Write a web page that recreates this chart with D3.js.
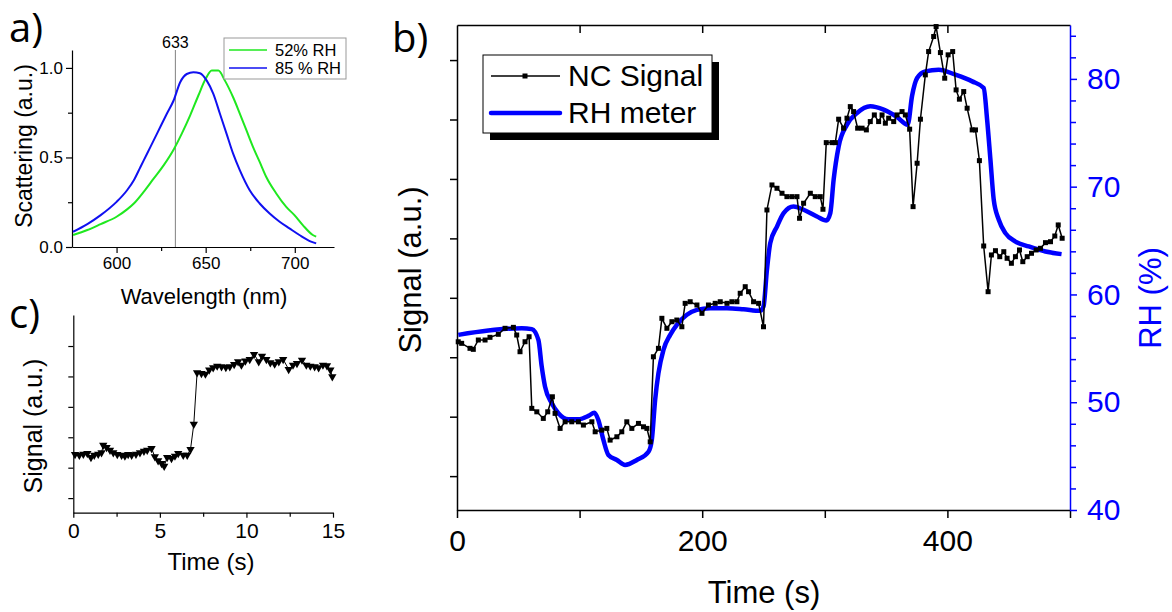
<!DOCTYPE html>
<html>
<head>
<meta charset="utf-8">
<script src="https://cdn.jsdelivr.net/npm/d3@7"></script>
<style>
body { margin: 0; background: #fff; }
svg text { font-family: "Liberation Sans", Arial, sans-serif; }
</style>
</head>
<body>
<svg id="fig" width="1172" height="612"></svg>
<script>
// ---- panel a: scattering spectra ----
var wl_52 = [575.6, 583.6, 591.1, 600.0, 605.9, 609.7, 615.2, 620.8, 626.4, 632.3, 636.6, 641.3, 645.9, 650.0, 653.4, 657.1, 660.8, 665.4, 669.2, 672.9, 676.6, 680.3, 684.0, 689.6, 695.2, 699.8, 704.5, 710.1, 712.0]
var sc_52 = [0.067, 0.095, 0.128, 0.169, 0.210, 0.243, 0.308, 0.382, 0.456, 0.549, 0.633, 0.735, 0.846, 0.939, 0.985, 0.985, 0.929, 0.836, 0.744, 0.651, 0.558, 0.475, 0.391, 0.299, 0.224, 0.178, 0.122, 0.067, 0.058]
var wl_85 = [575.6, 583.6, 591.1, 600.0, 605.9, 609.7, 613.4, 617.1, 622.7, 628.2, 632.0, 635.7, 639.4, 643.1, 646.8, 650.6, 654.3, 658.0, 661.7, 665.4, 669.2, 674.7, 680.3, 685.9, 691.5, 697.0, 702.6, 709.1, 712.0]
var sc_85 = [0.085, 0.128, 0.178, 0.252, 0.317, 0.373, 0.447, 0.521, 0.633, 0.744, 0.818, 0.920, 0.966, 0.976, 0.970, 0.929, 0.855, 0.744, 0.633, 0.521, 0.428, 0.317, 0.243, 0.187, 0.141, 0.104, 0.067, 0.030, 0.020]
var laser_line = 633
var a_x_ticks = [600, 650, 700]
var a_y_ticks = [0, 0.5, 1.0]
var a_legend = ['52% RH', '85 % RH']

// ---- panel b: NC signal vs RH meter ----
var nc_time = [1, 3.8, 10.6, 13.3, 17.4, 22.9, 26.9, 33.7, 39.2, 46.0, 48.7, 51.4, 55.5, 58.8, 61.0, 65.1, 70.4, 74.0, 77.8, 80.0, 84.1, 88.2, 93.6, 99.0, 103.1, 110.0, 112.7, 118.1, 122.2, 124.9,
    130.4, 134.4, 138.5, 142.6, 148.0, 152.1, 154.9, 157.6, 160.2, 164.3, 167.1, 171.2, 175.3, 179.3, 183.4, 186.1, 190.2, 195.7, 199.8, 205.1, 210.6, 214.7, 220.2, 224.2, 228.3, 231.0, 235.1, 237.8, 241.9, 246.0, 250.0,
    252.8, 256.9, 261.0, 265.1, 269.1, 273.2, 277.3, 279.4, 282.7, 288.2, 292.2, 296.3, 298.5, 301.2, 305.9, 308.6, 311.3, 315.3, 318.1, 320.8, 323.5, 326.8, 330.4, 333.9, 337.1, 340.4, 343.9, 346.7, 349.4, 352.1, 356.2, 358.9, 363.0, 365.7, 369.2, 372.0, 375.3,
    378.0, 382.0, 384.7, 388.8, 390.8, 394.3, 397.8, 400.6, 404.3, 407.1, 409.8, 413.3, 416.1, 420.2, 422.9, 426.1, 429.6, 433.2, 435.9, 439.2, 442.7, 446.0, 448.7, 452.2, 455.5, 458.8, 461.5, 465.1, 468.6, 472.4, 475.9, 480.0, 484.1, 487.6, 490.4, 493.6]
var nc_signal = [3.26, 3.234, 3.150, 3.133, 3.290, 3.290, 3.335, 3.386, 3.487, 3.503, 3.374, 3.093, 3.261, 3.345, 2.140, 2.082, 1.971, 2.082, 2.335, 2.056, 1.803, 1.914, 1.914, 1.914, 1.859, 1.914, 1.746, 1.774, 1.803, 1.606,
    1.662, 1.746, 1.914, 1.803, 1.887, 1.830, 1.803, 1.577, 3.008, 3.150, 3.655, 3.487, 3.598, 3.626, 3.513, 3.907, 3.934, 3.879, 3.739, 3.879, 3.907, 3.934, 3.907, 3.934, 3.934, 4.076, 4.187, 4.103, 3.934, 3.907, 3.513,
    5.478, 5.899, 5.843, 5.759, 5.702, 5.702, 5.702, 5.338, 5.591, 5.759, 5.702, 5.702, 5.490, 6.611, 6.611, 6.611, 7.005, 6.854, 7.022, 7.217, 7.133, 6.854, 6.854, 6.825, 6.965, 7.077, 6.965, 7.077, 6.938, 7.022, 6.965, 7.077, 7.133, 7.077, 6.837, 5.534, 6.264,
    7.005, 7.751, 8.143, 8.396, 8.564, 8.126, 7.695, 8.088, 8.143, 7.498, 7.342, 7.470, 7.190, 6.825, 6.825, 6.308, 4.872, 4.103, 4.721, 4.793, 4.692, 4.776, 4.665, 4.581, 4.692, 4.805, 4.608, 4.692, 4.749, 4.805, 4.833, 4.928, 4.944, 5.040, 5.226, 5.002]
var rh_time = [1.1, 25.6, 52.8, 61.0, 66.4, 69.1, 71.8, 77.3, 82.7, 90.9, 99.0, 107.2, 112.1, 115.3, 119.4, 123.5, 130.4, 137.1, 146.7, 156.2, 158.9, 161.6, 164.3, 168.4, 173.9, 179.3, 187.5, 195.7, 206.5, 220.2, 233.7, 247.3, 250.0,
    252.8, 255.5, 261.0, 266.4, 274.5, 282.7, 293.6, 301.2, 304.5, 307.2, 311.3, 318.1, 326.3, 337.1, 348.0, 358.9, 367.6, 371.2, 375.3, 382.0, 392.9, 406.5, 420.2, 429.6, 432.4, 435.1, 437.8, 441.9, 447.3, 455.5, 466.4, 480.0, 493.1]
var rh_value = [56.25, 56.65, 56.87, 56.78, 55.78, 53.31, 51.45, 49.91, 48.98, 48.42, 48.42, 48.73, 49.03, 48.36, 46.5, 45.1, 44.64, 44.18, 44.64, 45.41, 46.5, 50.21, 52.69, 54.86, 56.25, 57.18, 58.11, 58.57, 58.73, 58.73, 58.63, 58.48, 58.88,
    62.28, 64.76, 66.30, 67.55, 68.16, 67.86, 67.23, 66.86, 67.55, 70.64, 73.73, 75.75, 76.83, 77.45, 77.14, 76.46, 75.75, 78.44, 80.08, 80.70, 80.85, 80.39, 79.77, 79.15, 76.21, 72.5, 68.78, 66.93, 65.69, 64.91, 64.45, 63.98, 63.74]
var b_x_ticks = [0, 200, 400]
var b_x_minor = [0, 100, 200, 300, 400, 500]
var b_sig_ticks = [1, 2, 3, 4, 5, 6, 7, 8]
var b_rh_ticks = [40, 50, 60, 70, 80]
var b_rh_minor = [42, 44, 46, 48, 52, 54, 56, 58, 62, 64, 66, 68, 72, 74, 76, 78, 82, 84]
var b_legend = ['NC Signal', 'RH meter']

// ---- panel c: fast response ----
var c_time = [0.10, 0.35, 0.58, 0.81, 1.02, 1.21, 1.44, 1.63, 1.73, 1.92, 2.12, 2.31, 2.54, 2.79, 2.98, 3.17, 3.37, 3.62, 3.85, 4.08, 4.27, 4.52, 4.71, 4.90, 5.10, 5.25, 5.42, 5.67, 5.87, 6.06, 6.35, 6.58, 6.77, 6.96,
    7.15, 7.40, 7.63, 7.85, 8.08, 8.31, 8.56, 8.81, 9.04, 9.29, 9.52, 9.71, 9.94, 10.19, 10.44, 10.71, 10.90, 11.15, 11.38, 11.63, 11.87, 12.12, 12.44, 12.69, 12.92, 13.21, 13.46, 13.69, 13.94, 14.17, 14.42, 14.65, 14.85, 14.96]
var c_signal = [2.437, 2.414, 2.447, 2.469, 2.338, 2.414, 2.447, 2.491, 2.743, 2.667, 2.579, 2.491, 2.437, 2.414, 2.382, 2.437, 2.414, 2.447, 2.491, 2.546, 2.579, 2.634, 2.359, 2.228, 2.140, 2.053, 2.338, 2.305, 2.382, 2.469, 2.414, 2.414, 2.601, 3.434,
    5.122, 5.100, 5.079, 5.211, 5.286, 5.342, 5.320, 5.299, 5.320, 5.398, 5.484, 5.375, 5.508, 5.562, 5.727, 5.484, 5.671, 5.562, 5.451, 5.408, 5.484, 5.562, 5.234, 5.375, 5.430, 5.539, 5.375, 5.342, 5.320, 5.286, 5.375, 5.353, 5.211, 4.990]
var c_x_ticks = [0, 5, 10, 15]
var c_x_minor = [2.5, 7.5, 12.5]
var c_sig_ticks = [1, 2, 3, 4, 5, 6]

var svg = d3.select('#fig')

function zip(xs, ys) {
    return xs.map(function (d, i) { return [d, ys[i]] })
}

function style_axis(g, color, width) {
    g.select('.domain').attr('stroke', color).attr('stroke-width', width)
    g.selectAll('.tick line').attr('stroke', color).attr('stroke-width', width)
    g.selectAll('.tick text').attr('fill', color)
}

function init_panel_a() {
    var x = d3.scaleLinear().domain([575, 722]).range([72, 334])
    var y = d3.scaleLinear().domain([0, 1.1]).range([247, 50])
    var g = svg.append('g')

    // axes
    var xa = g.append('g').attr('transform', 'translate(0,247)')
        .call(d3.axisBottom(x).tickValues(a_x_ticks).tickSize(6).tickSizeOuter(0).tickPadding(4))
    xa.selectAll('text').attr('font-size', 17)
    style_axis(xa, '#000', 1.2)
    g.append('g').attr('transform', 'translate(0,247)')
        .call(d3.axisBottom(x).tickValues([625, 675]).tickSize(4).tickFormat(''))
        .call(function (s) { s.select('.domain').remove(); style_axis(s, '#000', 1.2) })

    var ya = g.append('g').attr('transform', 'translate(72,0)')
        .call(d3.axisLeft(y).tickValues(a_y_ticks).tickSize(6).tickSizeOuter(0).tickPadding(3).tickFormat(d3.format('.1f')))
    ya.selectAll('text').attr('font-size', 17)
    style_axis(ya, '#000', 1.2)
    g.append('g').attr('transform', 'translate(72,0)')
        .call(d3.axisLeft(y).tickValues([0.25, 0.75]).tickSize(4).tickFormat(''))
        .call(function (s) { s.select('.domain').remove(); style_axis(s, '#000', 1.2) })

    // 633 nm laser line
    g.append('line')
        .attr('x1', x(laser_line)).attr('x2', x(laser_line))
        .attr('y1', 50).attr('y2', 247)
        .attr('stroke', '#808080').attr('stroke-width', 1)
    g.append('text').attr('x', x(laser_line)).attr('y', 48)
        .attr('text-anchor', 'middle').attr('font-size', 16).text(laser_line)

    var line = d3.line().x(function (d) { return x(d[0]) }).y(function (d) { return y(d[1]) }).curve(d3.curveMonotoneX)
    g.append('path').datum(zip(wl_52, sc_52)).attr('d', line)
        .attr('fill', 'none').attr('stroke', '#1fe81f').attr('stroke-width', 2)
    g.append('path').datum(zip(wl_85, sc_85)).attr('d', line)
        .attr('fill', 'none').attr('stroke', '#1010f0').attr('stroke-width', 2)

    // legend
    g.append('rect').attr('x', 224).attr('y', 38).attr('width', 122).attr('height', 41)
        .attr('fill', '#fff').attr('stroke', '#999')
    var colors = ['#1fe81f', '#1010f0']
    a_legend.forEach(function (lab, i) {
        var ly = 50 + i * 18
        g.append('line').attr('x1', 229).attr('x2', 267).attr('y1', ly).attr('y2', ly)
            .attr('stroke', colors[i]).attr('stroke-width', 1.5)
        g.append('text').attr('x', 275).attr('y', ly + 6).attr('font-size', 16.5).text(lab)
    })

    g.append('text').attr('x', 204).attr('y', 304).attr('text-anchor', 'middle')
        .attr('font-size', 22).text('Wavelength (nm)')
    g.append('text').attr('transform', 'translate(32,146) rotate(-90)').attr('text-anchor', 'middle')
        .attr('font-size', 23).text('Scattering (a.u.)')
}

function init_panel_b() {
    var x = d3.scaleLinear().domain([0, 500]).range([457, 1070])
    var ys = d3.scaleLinear().domain([0.43, 8.59]).range([510, 25])
    var yr = d3.scaleLinear().domain([40, 85]).range([510, 25])
    var g = svg.append('g')
    var blue = '#0000ff'

    // bottom axis
    var xa = g.append('g').attr('transform', 'translate(0,510)')
        .call(d3.axisBottom(x).tickValues(b_x_minor).tickSize(8).tickSizeOuter(0).tickPadding(12)
            .tickFormat(function (d) { return b_x_ticks.indexOf(d) > -1 ? d : '' }))
    xa.selectAll('text').attr('font-size', 30)
    style_axis(xa, '#000', 1.5)
    // top axis, ticks inward
    var ta = g.append('g').attr('transform', 'translate(0,25)')
        .call(d3.axisTop(x).tickValues(b_x_minor.slice(1, 5)).tickSize(-8).tickSizeOuter(0).tickFormat(''))
    style_axis(ta, '#000', 1.5)
    // left axis
    var la = g.append('g').attr('transform', 'translate(457,0)')
        .call(d3.axisLeft(ys).tickValues(b_sig_ticks).tickSize(7).tickSizeOuter(0).tickFormat(''))
    style_axis(la, '#000', 1.5)
    // right RH axis
    var ra = g.append('g').attr('transform', 'translate(1070,0)')
        .call(d3.axisRight(yr).tickValues(b_rh_ticks).tickSize(7).tickSizeOuter(0).tickPadding(10))
    ra.selectAll('text').attr('font-size', 30)
    style_axis(ra, blue, 1.5)
    g.append('g').attr('transform', 'translate(1070,0)')
        .call(d3.axisRight(yr).tickValues(b_rh_minor).tickSize(6).tickFormat(''))
        .call(function (s) { s.select('.domain').remove(); style_axis(s, blue, 1.5) })

    // RH meter
    var rline = d3.line().x(function (d) { return x(d[0]) }).y(function (d) { return yr(d[1]) }).curve(d3.curveMonotoneX)
    g.append('path').datum(zip(rh_time, rh_value)).attr('d', rline)
        .attr('fill', 'none').attr('stroke', blue).attr('stroke-width', 4.5).attr('stroke-linejoin', 'round')

    // NC signal
    var nc = zip(nc_time, nc_signal)
    var sline = d3.line().x(function (d) { return x(d[0]) }).y(function (d) { return ys(d[1]) })
    g.append('path').datum(nc).attr('d', sline)
        .attr('fill', 'none').attr('stroke', '#000').attr('stroke-width', 1.5)
    g.append('g').selectAll('rect').data(nc).enter().append('rect')
        .attr('x', function (d) { return x(d[0]) - 2.5 })
        .attr('y', function (d) { return ys(d[1]) - 2.5 })
        .attr('width', 5).attr('height', 5).attr('fill', '#000')

    // legend with drop shadow
    g.append('rect').attr('x', 490).attr('y', 62).attr('width', 229).attr('height', 78).attr('fill', '#000')
    g.append('rect').attr('x', 483).attr('y', 55).attr('width', 229).attr('height', 78)
        .attr('fill', '#fff').attr('stroke', '#000').attr('stroke-width', 1)
    g.append('line').attr('x1', 491).attr('x2', 560).attr('y1', 76).attr('y2', 76)
        .attr('stroke', '#000').attr('stroke-width', 1.5)
    g.append('rect').attr('x', 522.5).attr('y', 73.5).attr('width', 5).attr('height', 5).attr('fill', '#000')
    g.append('line').attr('x1', 491).attr('x2', 560).attr('y1', 113).attr('y2', 113)
        .attr('stroke', blue).attr('stroke-width', 4.5).attr('stroke-linecap', 'round')
    g.append('text').attr('x', 568).attr('y', 86).attr('font-size', 30).text(b_legend[0])
    g.append('text').attr('x', 568).attr('y', 123).attr('font-size', 30).text(b_legend[1])

    g.append('text').attr('x', 764).attr('y', 603).attr('text-anchor', 'middle')
        .attr('font-size', 31).text('Time (s)')
    g.append('text').attr('transform', 'translate(421,270) rotate(-90)').attr('text-anchor', 'middle')
        .attr('font-size', 31).text('Signal (a.u.)')
    g.append('text').attr('transform', 'translate(1161,298) rotate(-90)').attr('text-anchor', 'middle')
        .attr('font-size', 31).attr('fill', blue).text('RH (%)')
}

function init_panel_c() {
    var x = d3.scaleLinear().domain([0, 15]).range([73.3, 333])
    var y = d3.scaleLinear().domain([0.52, 7.02]).range([512.7, 315])
    var g = svg.append('g')

    var xa = g.append('g').attr('transform', 'translate(0,512.7)')
        .call(d3.axisBottom(x).tickValues(c_x_ticks).tickSize(5).tickSizeOuter(0).tickPadding(5))
    xa.selectAll('text').attr('font-size', 21)
    style_axis(xa, '#000', 1.2)
    g.append('g').attr('transform', 'translate(0,512.7)')
        .call(d3.axisBottom(x).tickValues(c_x_minor).tickSize(4).tickFormat(''))
        .call(function (s) { s.select('.domain').remove(); style_axis(s, '#000', 1.2) })
    var ya = g.append('g').attr('transform', 'translate(73.3,0)')
        .call(d3.axisLeft(y).tickValues(c_sig_ticks).tickSize(5).tickSizeOuter(0).tickFormat(''))
    style_axis(ya, '#000', 1.2)

    var pts = zip(c_time, c_signal)
    var line = d3.line().x(function (d) { return x(d[0]) }).y(function (d) { return y(d[1]) })
    g.append('path').datum(pts).attr('d', line)
        .attr('fill', 'none').attr('stroke', '#000').attr('stroke-width', 1)
    var tri = d3.symbol().type(d3.symbolTriangle).size(30)
    g.append('g').selectAll('path').data(pts).enter().append('path')
        .attr('d', tri)
        .attr('transform', function (d) { return 'translate(' + x(d[0]) + ',' + y(d[1]) + ') rotate(180)' })
        .attr('fill', '#000')

    g.append('text').attr('x', 211).attr('y', 570).attr('text-anchor', 'middle')
        .attr('font-size', 24).text('Time (s)')
    g.append('text').attr('transform', 'translate(42,426) rotate(-90)').attr('text-anchor', 'middle')
        .attr('font-size', 25).text('Signal (a.u.)')
}

init_panel_a()
init_panel_b()
init_panel_c()

// panel letters
svg.append('text').attr('x', 9).attr('y', 42).attr('font-size', 40).style('font-family', '"Open Sans", sans-serif').text('a)')
svg.append('text').attr('x', 392).attr('y', 52).attr('font-size', 40).style('font-family', '"Open Sans", sans-serif').text('b)')
svg.append('text').attr('x', 9).attr('y', 328).attr('font-size', 40).style('font-family', '"Open Sans", sans-serif').text('c)')
</script>
</body>
</html>
